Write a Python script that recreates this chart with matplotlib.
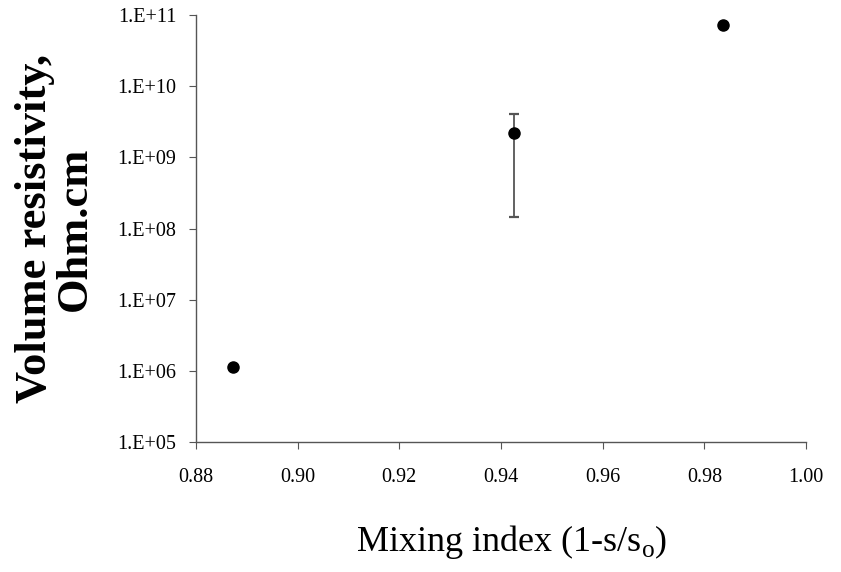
import math
import matplotlib.pyplot as plt
from matplotlib.ticker import FixedLocator, FuncFormatter

# data
mixing_index = [0.8873, 0.9425, 0.9837]
resistivity = [1.13e6, 2.2e9, 7.2e10]
err_low = [0, 2.2e9 - 1.47e8, 0]
err_high = [0, 4.1e9 - 2.2e9, 0]
y_ticks = [1e5, 1e6, 1e7, 1e8, 1e9, 1e10, 1e11]
x_ticks = [0.88, 0.90, 0.92, 0.94, 0.96, 0.98, 1.00]

plt.rcParams['font.family'] = ['Liberation Serif', 'DejaVu Serif']

fig = plt.figure(figsize=(8.41, 5.72), dpi=100)
ax = fig.add_axes([196 / 841, 1 - 442 / 572, (806 - 196) / 841, (442 - 15) / 572])

# error bar on the middle point only
ax.errorbar(mixing_index[1:2], resistivity[1:2],
            yerr=[err_low[1:2], err_high[1:2]],
            fmt='none', ecolor='#555555', elinewidth=1.3, capsize=3.3, capthick=1.6)
ax.plot(mixing_index, resistivity, 'o', color='black', markersize=8, linestyle='none')

ax.set_yscale('log')
ax.set_ylim(1e5, 1e11)
ax.set_xlim(0.88, 1.00)
ax.yaxis.set_major_locator(FixedLocator(y_ticks))
ax.yaxis.set_minor_locator(FixedLocator([]))
ax.yaxis.set_major_formatter(FuncFormatter(lambda v, p: '1.E+%02d' % round(math.log10(v))))
ax.set_xticks(x_ticks)
ax.set_xticklabels(['%.2f' % v for v in x_ticks])

for side in ['top', 'right']:
    ax.spines[side].set_visible(False)
for side in ['left', 'bottom']:
    ax.spines[side].set_color('#555555')
    ax.spines[side].set_linewidth(1.0)

ax.tick_params(axis='both', direction='out', length=5, width=0.8,
               color='#555555', labelsize=14.5)
ax.tick_params(axis='x', pad=14)
ax.tick_params(axis='y', pad=9)

ax.set_xlabel('Mixing index (1-s/s$_\\mathregular{o}$)', fontsize=26)
ax.xaxis.set_label_coords(0.518, -0.19)
ax.set_ylabel('Volume resistivity,\nOhm.cm', fontsize=32, fontweight='bold',
              linespacing=1.0)
ax.yaxis.set_label_coords(-0.165, 0.5)

fig.savefig('out.png', dpi=100)
